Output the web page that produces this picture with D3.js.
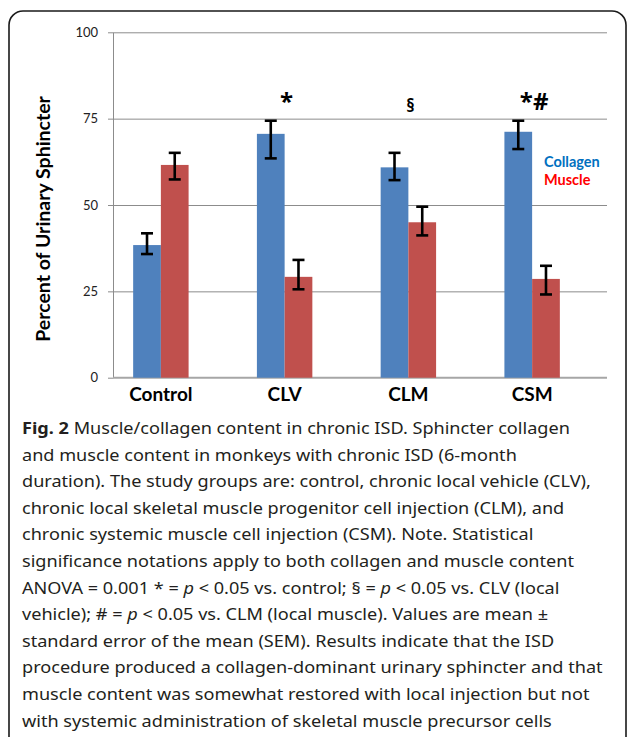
<!DOCTYPE html>
<html>
<head>
<meta charset="utf-8">
<title>Muscle/collagen content in chronic ISD</title>
<script src="https://d3js.org/d3.v7.min.js"></script>
<style>
  body { margin: 0; background: #fff; }
  svg { display: block; }
</style>
</head>
<body>
<script>
// data
var groups = ["Control", "CLV", "CLM", "CSM"];
var series = ["Collagen", "Muscle"];
var collagen = [38.4, 70.6, 60.9, 71.2];
var muscle = [61.6, 29.2, 45.0, 28.6];
var collagenLow = [35.8, 63.5, 57.2, 66.2];
var collagenHigh = [41.8, 74.4, 65.1, 74.4];
var muscleLow = [57.4, 25.6, 41.2, 24.1];
var muscleHigh = [65.1, 34.1, 49.5, 32.4];
var marks = ["", "*", "§", "*#"];
var yTicks = [0, 25, 50, 75, 100];
var yTitle = "Percent of Urinary Sphincter";
var captionLines = [
  "Muscle/collagen content in chronic ISD. Sphincter collagen",
  "and muscle content in monkeys with chronic ISD (6-month",
  "duration). The study groups are: control, chronic local vehicle (CLV),",
  "chronic local skeletal muscle progenitor cell injection (CLM), and",
  "chronic systemic muscle cell injection (CSM). Note. Statistical",
  "significance notations apply to both collagen and muscle content",
  "ANOVA = 0.001 * = _p_ < 0.05 vs. control; § = _p_ < 0.05 vs. CLV (local",
  "vehicle); # = _p_ < 0.05 vs. CLM (local muscle). Values are mean ±",
  "standard error of the mean (SEM). Results indicate that the ISD",
  "procedure produced a collagen-dominant urinary sphincter and that",
  "muscle content was somewhat restored with local injection but not",
  "with systemic administration of skeletal muscle precursor cells"
];

var W = 627, H = 737;
var colors = { Collagen: "#4F81BD", Muscle: "#C0504D" };
var legendColors = { Collagen: "#0070C0", Muscle: "#FF0000" };
var chartFont = "Lato, 'Open Sans', sans-serif";

var svg = d3.select("body").append("svg").attr("width", W).attr("height", H);

// outer frame
svg.append("rect")
  .attr("x", 9).attr("y", 11).attr("width", 617).attr("height", 800)
  .attr("rx", 14)
  .attr("fill", "none").attr("stroke", "#1a1a1a").attr("stroke-width", 1.6);

// scales
var y = d3.scaleLinear().domain([0, 100]).range([377.7, 32.3]);
var x0 = d3.scaleBand().domain(groups).range([99, 594])
  .paddingInner(0.552).paddingOuter(0.276);
var x1 = d3.scaleBand().domain(series).range([0, x0.bandwidth()]);

var plotLeft = 113, plotRight = 607;

// gridlines
svg.append("g")
  .attr("transform", "translate(" + plotLeft + ",0)")
  .call(d3.axisLeft(y).tickValues(yTicks.slice(1)).tickSize(-(plotRight - plotLeft)).tickFormat(""))
  .call(function(g) {
    g.select(".domain").remove();
    g.selectAll("line").attr("stroke", "#8c8c8c").attr("stroke-width", 1);
  });

// y axis with outward ticks
svg.append("g")
  .attr("transform", "translate(" + plotLeft + ",0)")
  .call(d3.axisLeft(y).tickValues(yTicks).tickSize(5).tickSizeOuter(0).tickPadding(10))
  .call(function(g) {
    g.select(".domain").attr("stroke", "#8c8c8c");
    g.selectAll("line").attr("stroke", "#8c8c8c");
    g.selectAll("text").attr("font-family", chartFont).attr("font-size", 13).attr("fill", "#222");
  });

// baseline
svg.append("line")
  .attr("x1", plotLeft).attr("x2", plotRight)
  .attr("y1", y(0)).attr("y2", y(0))
  .attr("stroke", "#a6a6a6").attr("stroke-width", 2);

// bars
var rows = groups.map(function(g, i) {
  return {
    group: g,
    items: [
      { key: "Collagen", value: collagen[i], lo: collagenLow[i], hi: collagenHigh[i] },
      { key: "Muscle", value: muscle[i], lo: muscleLow[i], hi: muscleHigh[i] }
    ]
  };
});

var gg = svg.append("g").selectAll("g")
  .data(rows).enter().append("g")
  .attr("transform", function(d) { return "translate(" + x0(d.group) + ",0)"; });

gg.selectAll("rect")
  .data(function(d) { return d.items; })
  .enter().append("rect")
  .attr("x", function(d) { return x1(d.key); })
  .attr("y", function(d) { return y(d.value); })
  .attr("width", x1.bandwidth())
  .attr("height", function(d) { return y(0) - y(d.value); })
  .attr("fill", function(d) { return colors[d.key]; });

// error bars
var eb = gg.selectAll("g.err")
  .data(function(d) { return d.items; })
  .enter().append("g").attr("class", "err")
  .attr("transform", function(d) { return "translate(" + (x1(d.key) + x1.bandwidth() / 2) + ",0)"; })
  .attr("stroke", "#000").attr("stroke-width", 2.6);
eb.append("line").attr("x1", 0).attr("x2", 0)
  .attr("y1", function(d) { return y(d.hi); }).attr("y2", function(d) { return y(d.lo); });
eb.append("line").attr("x1", -6).attr("x2", 6)
  .attr("y1", function(d) { return y(d.hi); }).attr("y2", function(d) { return y(d.hi); });
eb.append("line").attr("x1", -6).attr("x2", 6)
  .attr("y1", function(d) { return y(d.lo); }).attr("y2", function(d) { return y(d.lo); });

// significance marks
svg.append("g").selectAll("text")
  .data(groups).enter().append("text")
  .attr("x", function(g) { return x0(g) + x0.bandwidth() / 2 + 2; })
  .attr("y", function(g, i) { return marks[i] == "§" ? y(76.8) : y(77.6); })
  .attr("text-anchor", "middle")
  .attr("font-family", "'Open Sans', sans-serif").attr("font-weight", "bold")
  .attr("font-size", function(g, i) { return marks[i] == "§" ? 17 : 24; })
  .attr("fill", "#000")
  .text(function(g, i) { return marks[i]; });

// category labels
svg.append("g").selectAll("text")
  .data(groups).enter().append("text")
  .attr("x", function(g) { return x0(g) + x0.bandwidth() / 2; })
  .attr("y", 401)
  .attr("text-anchor", "middle")
  .attr("font-family", chartFont).attr("font-weight", "bold").attr("font-size", 19)
  .attr("fill", "#000")
  .text(function(g) { return g; });

// y title
svg.append("text")
  .attr("transform", "translate(50,219) rotate(-90)")
  .attr("text-anchor", "middle")
  .attr("font-family", chartFont).attr("font-weight", "bold").attr("font-size", 19.5)
  .attr("fill", "#000")
  .text(yTitle);

// legend (coloured words)
svg.append("g").selectAll("text")
  .data(series).enter().append("text")
  .attr("x", 544)
  .attr("y", function(d, i) { return 166.5 + i * 18.5; })
  .attr("font-family", chartFont).attr("font-weight", "bold").attr("font-size", 14.5)
  .attr("fill", function(d) { return legendColors[d]; })
  .text(function(d) { return d; });

// caption
var cap = svg.append("g").attr("font-family", "'Noto Sans', 'Open Sans', sans-serif")
  .attr("font-size", 16.5).attr("fill", "#231f20");
captionLines.forEach(function(line, i) {
  var t = cap.append("text").attr("x", 0).attr("y", 434 + i * 26.6);
  if (i == 0) {
    t.append("tspan").attr("font-weight", "bold").text("Fig. 2");
    t.append("tspan").text(" ");
  }
  line.split(/(_p_)/).forEach(function(part) {
    if (part == "_p_") t.append("tspan").attr("font-style", "italic").text("p");
    else if (part) t.append("tspan").text(part);
  });
});
var maxW = 0;
cap.selectAll("text").each(function() { maxW = Math.max(maxW, this.getComputedTextLength()); });
var sx = 581 / maxW;
cap.attr("transform", "translate(22,0) scale(" + sx + ",1)");
</script>
</body>
</html>
